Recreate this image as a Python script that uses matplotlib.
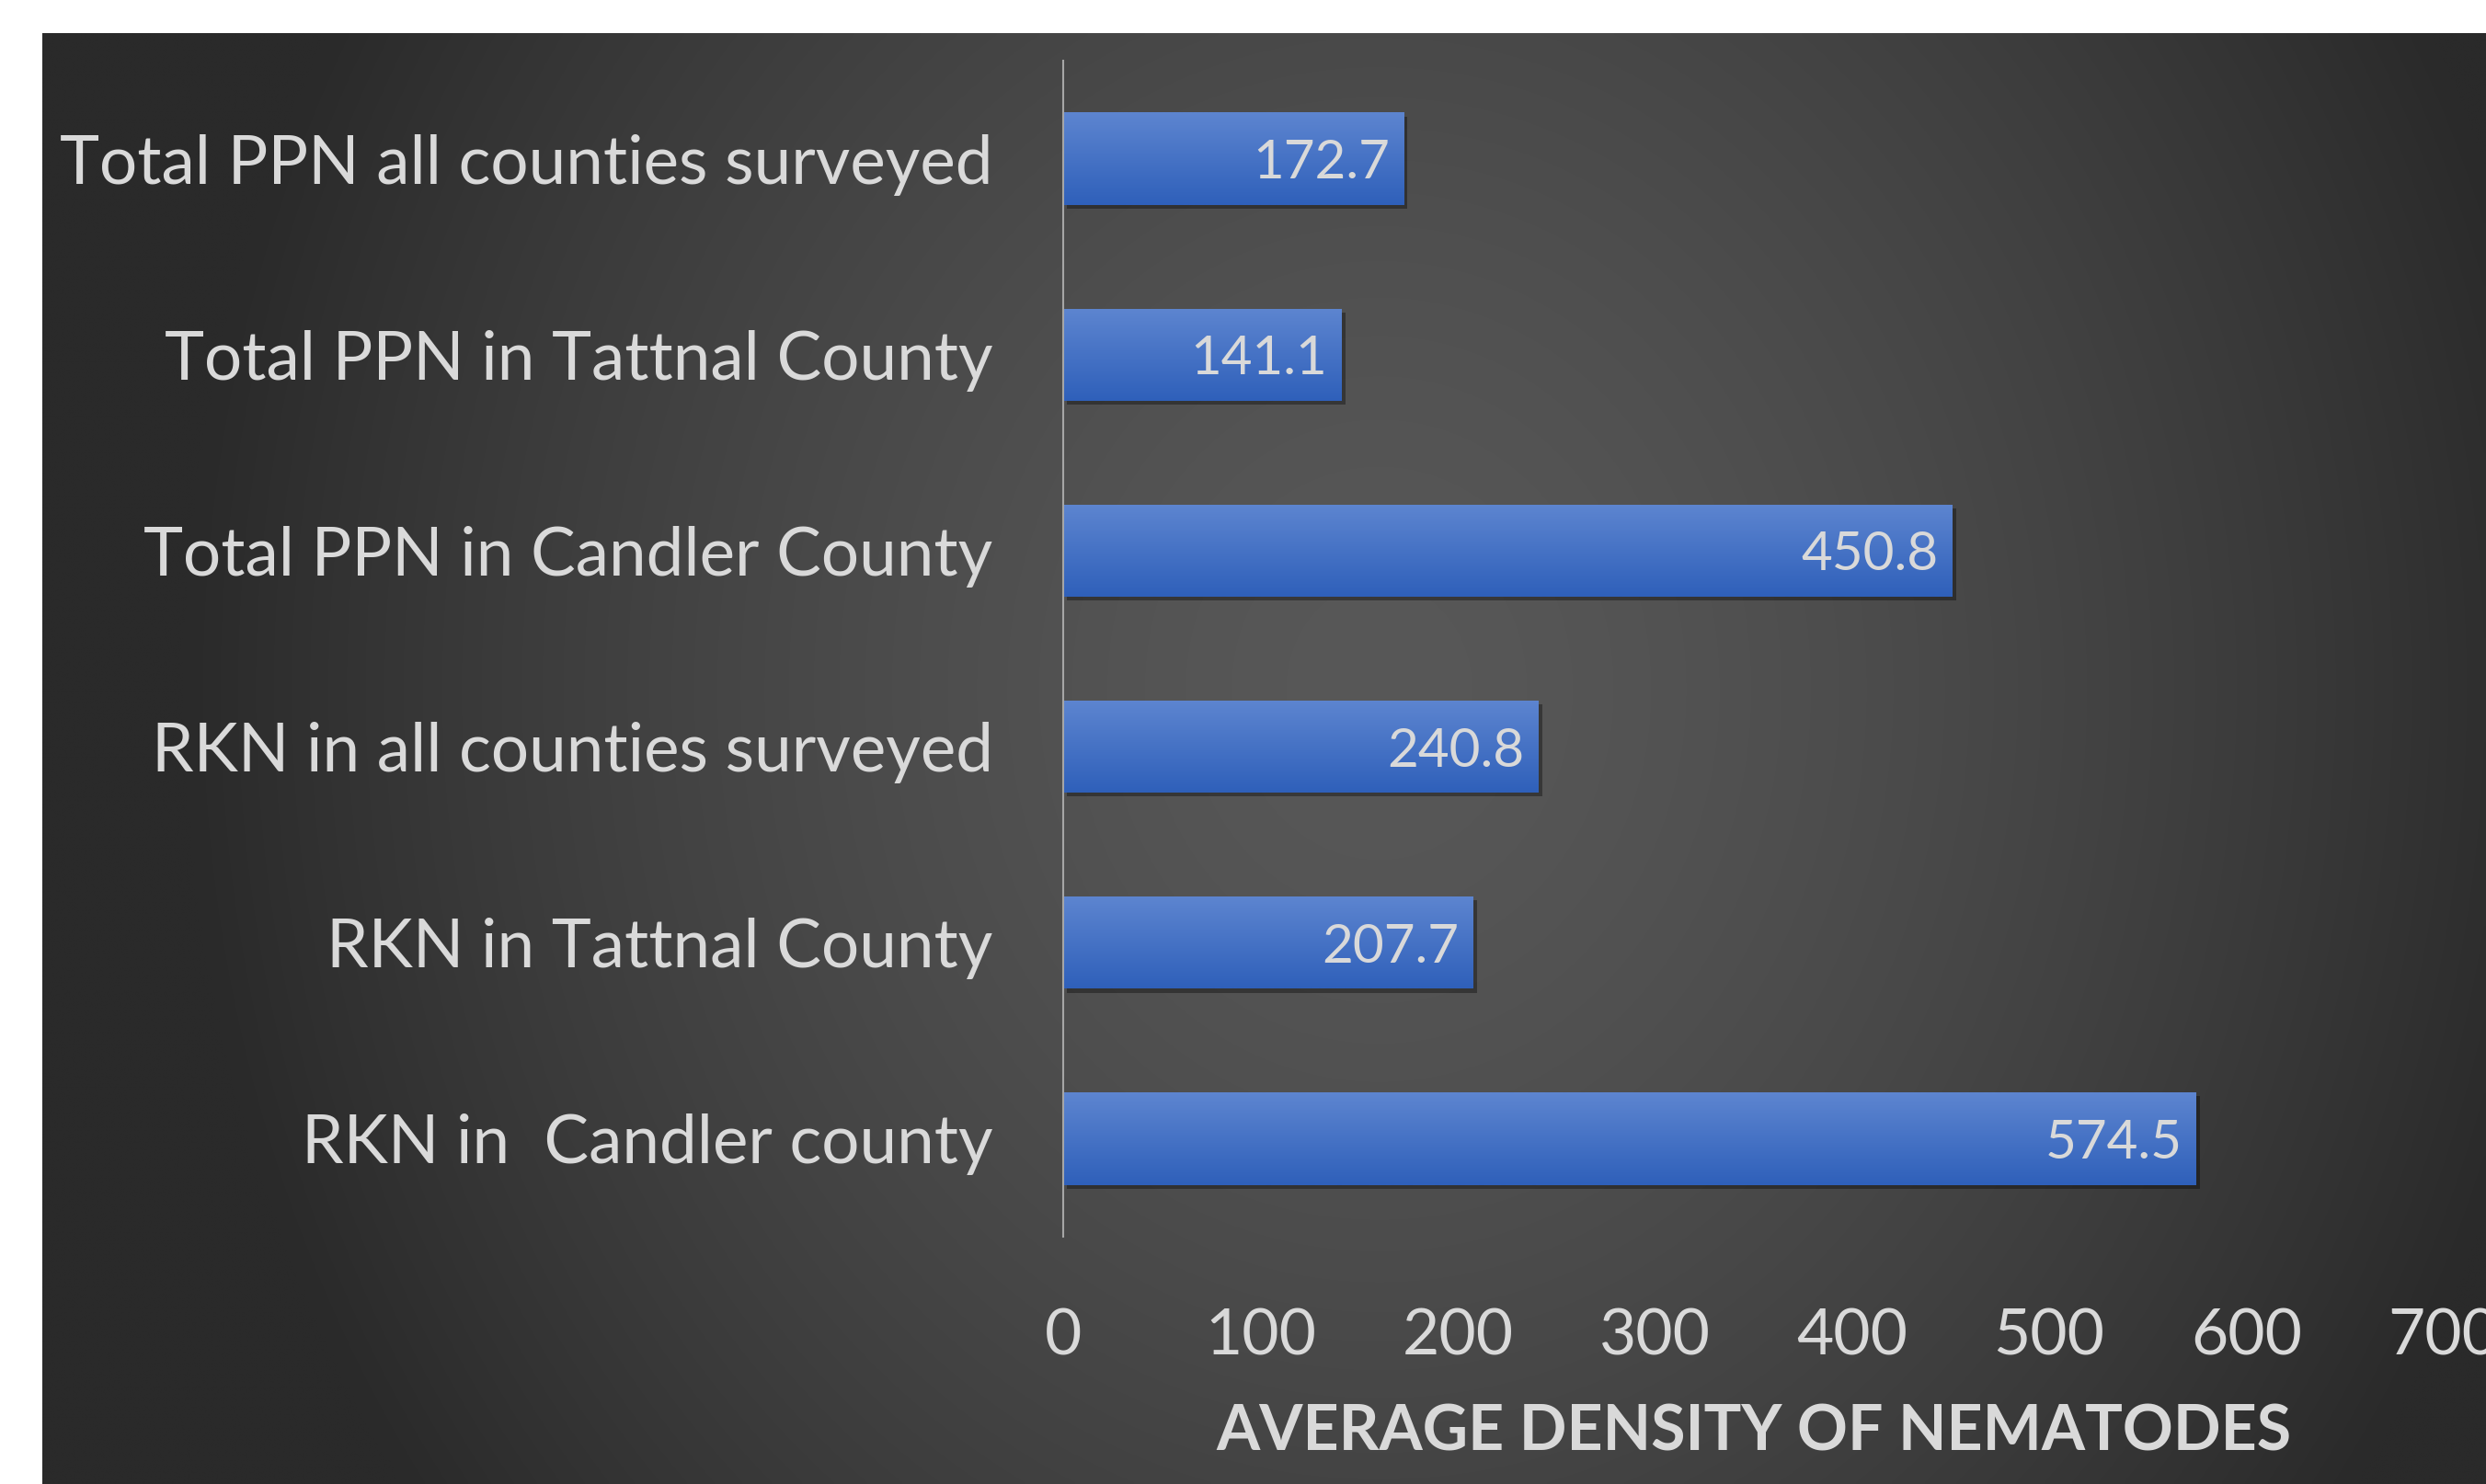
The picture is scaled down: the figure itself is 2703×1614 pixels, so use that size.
import numpy as np
import matplotlib
matplotlib.use("Agg")
import matplotlib.pyplot as plt
from matplotlib import patheffects as pe

categories = ["Total PPN all counties surveyed", "Total PPN in Tattnal County",
              "Total PPN in Candler County", "RKN in all counties surveyed",
              "RKN in Tattnal County", "RKN in  Candler county"]
values = [172.7, 141.1, 450.8, 240.8, 207.7, 574.5]
xticks = [0, 100, 200, 300, 400, 500, 600, 700]
xlabel = "AVERAGE DENSITY OF NEMATODES"

W, H = 2703, 1614
DPI = 100
plt.rcParams['font.family'] = ['Lato', 'DejaVu Sans']
TXT = '#d9d9d9'

fig = plt.figure(figsize=(W / DPI, H / DPI), dpi=DPI, facecolor='white')

# background panel with radial gradient
bg = fig.add_axes([0, 0, 1, 1], zorder=0)
bg.set_xlim(0, W)
bg.set_ylim(H, 0)
bg.axis('off')
x0, y0 = 46, 36
gx = np.linspace(x0, W, 600)
gy = np.linspace(y0, H, 400)
GX, GY = np.meshgrid(gx, gy)
cx, cy = 1500, 750
r = np.sqrt(((GX - cx) / 1300.0) ** 2 + ((GY - cy) / 1500.0) ** 2)
r = np.clip(r, 0, 1)
inner = np.array([0x58, 0x58, 0x58]) / 255.0
outer = np.array([0x2a, 0x2a, 0x2a]) / 255.0
t = r[..., None] ** 1.5
img = inner * (1 - t) + outer * t
bg.imshow(img, extent=[x0, W, H, y0], aspect='auto', interpolation='bilinear')

# main axes
left = 1156 / W
right = 2657 / W
bottom = (H - 1345) / H
top = (H - 66) / H
ax = fig.add_axes([left, bottom, right - left, top - bottom], zorder=1)
ax.set_facecolor('none')

ypos = np.arange(len(categories))
bars = ax.barh(ypos, values, height=0.47, color='#4472C4', zorder=3,
               path_effects=[pe.SimplePatchShadow(offset=(3, -3), shadow_rgbFace='black', alpha=0.35),
                             pe.Normal()])

# vertical gradient on bars
grad = np.linspace(0, 1, 100)[:, None]
top_c = np.array([0x5d, 0x85, 0xd0]) / 255.0
bot_c = np.array([0x2f, 0x60, 0xba]) / 255.0
gimg = top_c * (1 - grad[..., None]) + bot_c * grad[..., None]
for b in bars:
    bx, by, bw, bh = b.get_x(), b.get_y(), b.get_width(), b.get_height()
    im = ax.imshow(gimg, extent=[bx, bx + bw, by + bh, by], aspect='auto',
                   zorder=4, interpolation='bilinear')
    im.set_clip_path(b)

ax.set_xlim(0, 700)
ax.set_ylim(len(categories) - 0.5, -0.5)
ax.set_yticks(ypos)
ax.set_yticklabels(categories, fontsize=52.5, color=TXT)
ax.set_xticks(xticks)
ax.set_xticklabels([str(v) for v in xticks], fontsize=50, color=TXT)
ax.tick_params(axis='both', length=0)
ax.tick_params(axis='y', pad=55)
ax.tick_params(axis='x', pad=56)
for s in ['top', 'right', 'bottom']:
    ax.spines[s].set_visible(False)
ax.spines['left'].set_color('#a6a6a6')
ax.spines['left'].set_linewidth(1.5)
ax.spines['left'].set_zorder(5)

for b, v in zip(bars, values):
    ax.annotate(f"{v:.1f}", xy=(b.get_width(), b.get_y() + b.get_height() / 2),
                xytext=(-11, -15.5), textcoords='offset points', ha='right', va='baseline',
                fontsize=42, color=TXT, zorder=6)

ax.set_xlabel(xlabel, fontsize=49, color=TXT, fontweight='bold', labelpad=29)

fig.savefig('out.png', dpi=DPI, facecolor='white')
